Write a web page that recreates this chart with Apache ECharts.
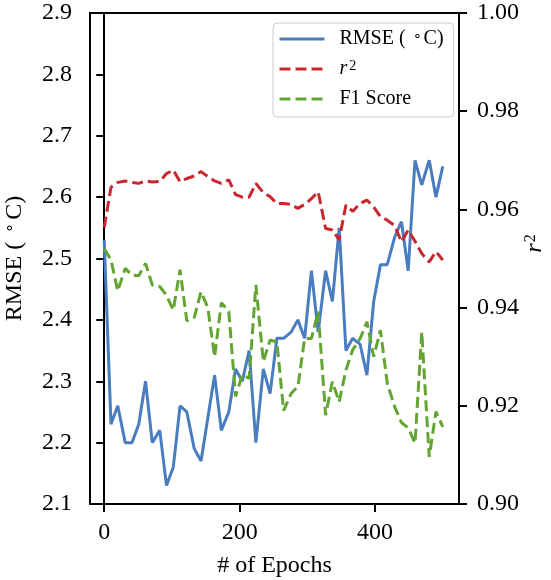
<!DOCTYPE html>
<html>
<head>
<meta charset="utf-8">
<script src="https://cdn.jsdelivr.net/npm/echarts@6/dist/echarts.min.js"></script>
<style>
html,body{margin:0;padding:0;background:#fff;}
#chart{width:551px;height:580px;}
</style>
</head>
<body>
<div id="chart"></div>
<script>
const epochs = [0,10,20,31,41,51,61,71,82,92,102,112,122,133,143,153,163,173,184,194,204,214,224,235,245,255,265,276,286,296,306,316,327,337,347,357,367,378,388,398,408,418,429,439,449,459,469,480,490,500];
const rmse = [2.53,2.23,2.26,2.20,2.20,2.23,2.30,2.20,2.22,2.13,
  2.16,2.26,2.25,2.19,2.17,2.24,2.31,2.22,2.25,2.32,
  2.30,2.35,2.20,2.32,2.28,2.37,2.37,2.38,2.40,2.37,
  2.48,2.38,2.48,2.43,2.55,2.35,2.37,2.36,2.31,2.43,
  2.49,2.49,2.535,2.56,2.48,2.66,2.62,2.66,2.60,2.65];
const r2 = [0.9563,0.9645,0.9655,0.9658,0.9655,0.9653,0.9658,0.9656,0.9657,0.9673,
  0.968,0.9656,0.9663,0.9668,0.9677,0.9667,0.9658,0.9653,0.966,0.963,
  0.9625,0.9625,0.9653,0.9634,0.9626,0.9612,0.9612,0.961,0.9602,0.961,
  0.9622,0.9636,0.9561,0.9558,0.9538,0.9609,0.9596,0.9612,0.9619,0.9605,
  0.9585,0.9578,0.9567,0.9534,0.9558,0.9535,0.951,0.9493,0.9514,0.9497];
const f1 = [0.952,0.9497,0.9434,0.948,0.9466,0.9465,0.949,0.9446,0.9443,0.9425,
  0.9395,0.9477,0.9373,0.938,0.9432,0.940,0.930,0.941,0.9392,0.9219,
  0.9263,0.9256,0.9446,0.929,0.9334,0.933,0.919,0.9225,0.9239,0.9337,
  0.9337,0.9392,0.9181,0.9249,0.9208,0.9273,0.9314,0.9337,0.9371,0.930,
  0.9354,0.9246,0.9198,0.9166,0.9155,0.9124,0.935,0.9096,0.9188,0.9157];
const xTicks = [0,200,400];
const seriesNames = ['RMSE ( ∘ C)', 'r2', 'F1 Score'];

const FONT = 'Liberation Serif';
const pair = (ys) => epochs.map((x,i)=>[x, ys[i]]);
const numRich = {n:{fontFamily:FONT,fontSize:24,color:'#000'}};

const chart = echarts.init(document.getElementById('chart'), null, {renderer:'canvas'});
chart.setOption({
  animation:false,
  backgroundColor:'#fff',
  textStyle:{fontFamily:FONT},
  grid:{left:90,right:92,top:13,bottom:76,show:true,borderColor:'#000',borderWidth:2,
    backgroundColor:'transparent',containLabel:false,outerBoundsMode:'none'},
  legend:{
    orient:'vertical', left:273, top:23,
    padding:[6,10,8,5], itemGap:10, itemWidth:45, itemHeight:20,
    backgroundColor:'#fff', borderColor:'#cccccc', borderWidth:1, borderRadius:4,
    data:seriesNames,
    itemStyle:{color:'transparent',borderColor:'transparent',borderWidth:0,opacity:0},
    lineStyle:{width:3},
    textStyle:{fontFamily:FONT,fontSize:20,color:'#000',padding:[0,0,0,10],
      rich:{
        a:{fontFamily:FONT,fontSize:20,color:'#000'},
        i:{fontFamily:FONT,fontSize:20,fontStyle:'italic',color:'#000'},
        sup:{fontFamily:FONT,fontSize:14,color:'#000',verticalAlign:'top',padding:[0,2,6,2]}
      }},
    formatter:function(n){
      if(n==='r2') return '{i|r}{sup|2}';
      if(n==='RMSE ( ∘ C)') return '{a|RMSE ( }{sup|∘}{a|C)}';
      return '{a|' + n + '}';
    }
  },
  xAxis:{
    type:'value', min:-21, max:524,
    name:'# of Epochs', nameLocation:'middle', nameGap:50,
    nameTextStyle:{fontFamily:FONT,fontSize:24,color:'#000'},
    axisLine:{show:true,onZero:false,lineStyle:{color:'#000',width:2}},
    axisTick:{show:true,length:8,lineStyle:{color:'#000',width:2},customValues:xTicks},
    axisLabel:{fontFamily:FONT,fontSize:24,color:'#000',margin:17,customValues:xTicks,
      formatter:v=>'{n|'+v+'}', rich:numRich},
    splitLine:{show:false}
  },
  yAxis:[{
    type:'value', position:'left', min:2.1, max:2.9, interval:0.1,
    name:'{a|RMSE ( }{sup|∘}{a|C)}', nameLocation:'middle', nameGap:63, nameRotate:90,
    nameTextStyle:{fontFamily:FONT,fontSize:24,color:'#000',
      rich:{
        a:{fontFamily:FONT,fontSize:24,color:'#000'},
        sup:{fontFamily:FONT,fontSize:16,color:'#000',verticalAlign:'top',padding:[0,3,8,3]}
      }},
    axisLine:{show:true,lineStyle:{color:'#000',width:2}},
    axisTick:{show:true,length:8,lineStyle:{color:'#000',width:2}},
    axisLabel:{fontFamily:FONT,fontSize:24,color:'#000',margin:18,
      formatter:v=>'{n|'+v.toFixed(1)+'}', rich:numRich},
    splitLine:{show:false}
  },{
    type:'value', position:'right', min:0.90, max:1.00, interval:0.02,
    name:'{i|r}{sup|2}', nameLocation:'middle', nameGap:64, nameRotate:90,
    nameMoveOverlap:false,
    nameTextStyle:{fontFamily:FONT,fontSize:24,color:'#000',padding:[0,0,0,30],
      rich:{
        i:{fontFamily:FONT,fontSize:24,fontStyle:'italic',color:'#000'},
        sup:{fontFamily:FONT,fontSize:16,color:'#000',verticalAlign:'top',padding:[0,0,8,1]}
      }},
    axisLine:{show:true,lineStyle:{color:'#000',width:2}},
    axisTick:{show:true,length:8,lineStyle:{color:'#000',width:2}},
    axisLabel:{fontFamily:FONT,fontSize:24,color:'#000',margin:18,
      formatter:v=>'{n|'+v.toFixed(2)+'}', rich:numRich},
    splitLine:{show:false}
  }],
  series:[
    {name:seriesNames[0],type:'line',yAxisIndex:0,data:pair(rmse),symbol:'none',
      lineStyle:{color:'#4a7cc0',width:3},itemStyle:{color:'#4a7cc0'}},
    {name:seriesNames[1],type:'line',yAxisIndex:1,data:pair(r2),symbol:'none',
      lineStyle:{color:'#c8282d',width:3,type:[11,5]},itemStyle:{color:'#c8282d'}},
    {name:seriesNames[2],type:'line',yAxisIndex:1,data:pair(f1),symbol:'none',
      lineStyle:{color:'#62a532',width:3,type:[11,5]},itemStyle:{color:'#62a532'}}
  ]
});
</script>
</body>
</html>
